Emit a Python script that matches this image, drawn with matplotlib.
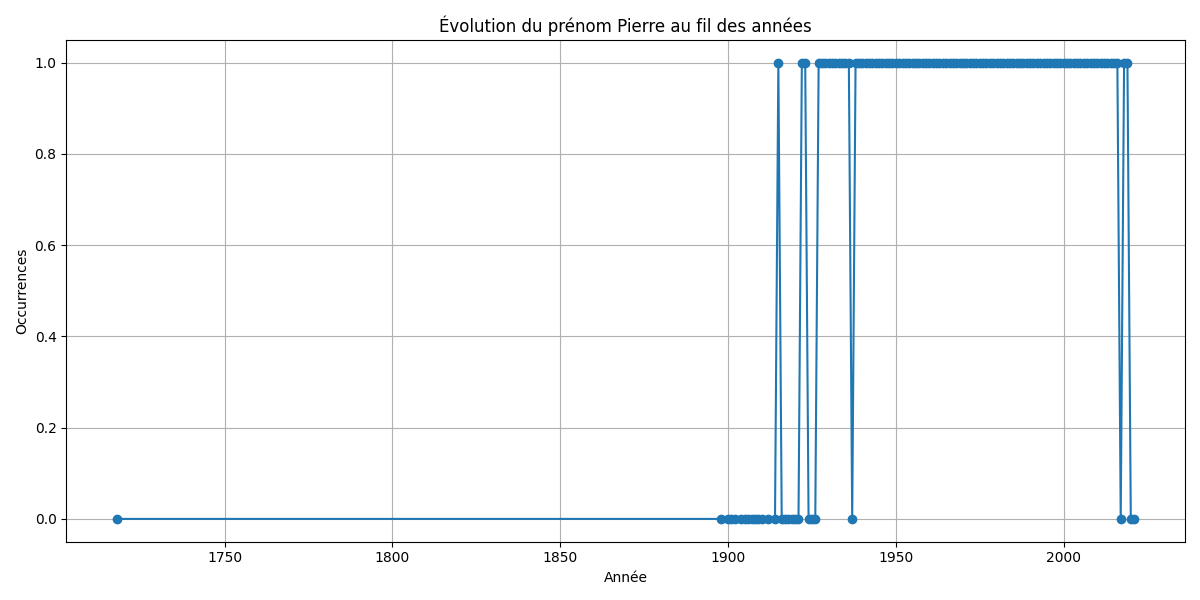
import matplotlib
matplotlib.use('Agg')
import matplotlib.pyplot as plt

years = [1718, 1898, 1900, 1901, 1902, 1904, 1905, 1906, 1907, 1908, 1909, 1910, 1912, 1914,
         1915, 1916, 1917, 1918, 1919, 1920, 1921, 1922, 1923, 1924, 1925, 1926] \
    + list(range(1927, 1937)) + [1937] + list(range(1938, 2017)) \
    + [2017, 2018, 2019, 2020, 2021]
counts = [0] * 14 + [1] + [0] * 6 + [1, 1] + [0] * 3 \
    + [1] * 10 + [0] + [1] * 79 + [0, 1, 1, 0, 0]

fig, ax = plt.subplots(figsize=(12, 6))
ax.plot(years, counts, marker='o')
ax.set_title('Évolution du prénom Pierre au fil des années')
ax.set_xlabel('Année')
ax.set_ylabel('Occurrences')
ax.grid(True)
fig.tight_layout()
fig.savefig('out.png', dpi=100)
